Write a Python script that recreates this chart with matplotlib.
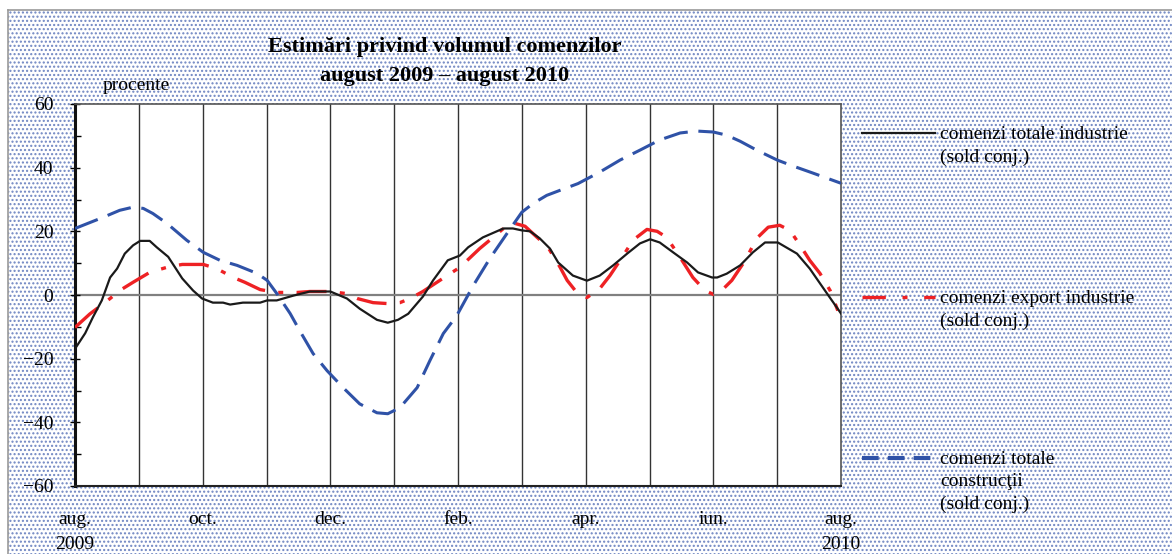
import numpy as np
import matplotlib
matplotlib.use('Agg')
from matplotlib import pyplot as plt
from matplotlib.lines import Line2D
from matplotlib.patches import Rectangle

# months since aug. 2009 (0 = aug. 2009, 12 = aug. 2010)
ind_x = [0, 0.16, 0.28, 0.42, 0.55, 0.66, 0.78, 0.91, 1.02, 1.17, 1.28, 1.46, 1.68, 1.85,
         1.99, 2.16, 2.32, 2.43, 2.63, 2.90, 3.01, 3.16, 3.42, 3.68, 4.00, 4.26, 4.46, 4.73,
         4.90, 5.06, 5.22, 5.45, 5.61, 5.84, 6.03, 6.16, 6.39, 6.71, 6.86, 7.00, 7.13, 7.28,
         7.44, 7.57, 7.80, 8.02, 8.22, 8.43, 8.65, 8.85, 9.01, 9.16, 9.37, 9.59, 9.76, 9.98,
         10.06, 10.21, 10.42, 10.62, 10.81, 11.01, 11.31, 11.51, 11.78, 12.0]
ind_y = [-16.9, -12, -7, -1.7, 5.5, 8.3, 13, 15.6, 17, 17, 15, 12, 5.2, 1.4,
         -1.1, -2.4, -2.4, -3, -2.4, -2.4, -1.7, -1.7, -0.2, 1.1, 1.1, -1.1, -4.3, -7.8,
         -8.7, -7.8, -5.9, -0.5, 4.6, 10.9, 12.4, 15, 18.1, 20.9, 20.9, 20.3, 20, 17.8,
         14.6, 10.2, 6.1, 4.5, 6.1, 9.3, 13, 16.2, 17.5, 16.5, 13.4, 10.2, 7.1, 5.5,
         5.5, 6.7, 9.3, 13.4, 16.5, 16.5, 13, 8.3, 0.5, -5.8]

exp_x = [0, 0.23, 0.55, 0.70, 0.91, 1.17, 1.44, 1.68, 2.01, 2.22, 2.48, 2.66, 2.90, 3.16,
         3.48, 3.68, 4.00, 4.23, 4.42, 4.67, 4.90, 5.09, 5.25, 5.45, 5.83, 6.03, 6.34, 6.55,
         6.77, 6.89, 7.05, 7.24, 7.41, 7.60, 7.71, 7.86, 8.02, 8.22, 8.38, 8.59, 8.74, 8.96,
         9.12, 9.27, 9.48, 9.68, 9.87, 10.0, 10.1, 10.29, 10.50, 10.68, 10.86, 11.04, 11.20,
         11.36, 11.51, 11.67, 11.83, 11.95]
exp_y = [-10.2, -6, -1.1, 1.4, 4, 7.1, 8.7, 9.6, 9.6, 8.3, 5.5, 4, 1.7, 0.8,
         0.8, 1.1, 1.1, 0.5, -1.1, -2.4, -2.7, -2.4, -1.1, 1.1, 6.1, 8.7, 14.6, 18.1,
         21.9, 22.5, 21.6, 18.1, 15, 8.7, 4.6, 0.8, -0.8, 2, 6.1, 12.4, 17.2, 20.6,
         20, 18.1, 11.8, 5.5, 1.4, 0.2, 0.8, 4.6, 10.9, 17.8, 21.3, 21.9, 20.3,
         15.6, 10.9, 6.8, 1.4, -4.9]

con_x = [0, 0.44, 0.70, 0.91, 1.07, 1.22, 1.44, 1.75, 2.01, 2.27, 2.54, 2.85, 3.01, 3.16,
         3.37, 3.52, 3.73, 3.95, 4.20, 4.46, 4.73, 4.90, 5.09, 5.36, 5.56, 5.77, 5.98, 6.24,
         6.50, 6.77, 7.00, 7.18, 7.39, 7.60, 7.88, 8.22, 8.54, 8.85, 9.16, 9.48, 9.74, 10.0,
         10.21, 10.42, 10.68, 11.0, 11.25, 11.56, 12.0]
con_y = [20.9, 24.4, 26.6, 27.6, 27.2, 25.6, 22.5, 17.2, 13.4, 10.9, 9.3, 6.8, 4.6, 0.5,
         -5.8, -11.2, -18.4, -23.8, -29.1, -34.2, -37, -37.3, -35.4, -29.1, -20.6, -12.1, -6.5, 3,
         11.5, 19.4, 26, 28.8, 31.3, 32.9, 35, 38.6, 42.4, 45.5, 48.7, 50.9, 51.5, 51.2,
         50.2, 48.3, 45.5, 42.4, 40.5, 38.3, 35.1]

tick_pos = [0, 2, 4, 6, 8, 10, 12]
tick_lbl = ['aug.\n2009', 'oct.', 'dec.', 'feb.', 'apr.', 'iun.', 'aug.\n2010']

series_names = ['comenzi totale industrie\n(sold conj.)',
                'comenzi export industrie\n(sold conj.)',
                'comenzi totale\nconstrucţii\n(sold conj.)']

matplotlib.rcParams['font.family'] = 'Liberation Serif'
matplotlib.rcParams['font.size'] = 14

fig = plt.figure(figsize=(11.72, 5.54), dpi=100)
fig.patch.set_facecolor('white')
# dotted background
bg = Rectangle((8/1172, 0.0), 1 - 8/1172, 1 - 10/554, transform=fig.transFigure,
               facecolor='white', edgecolor='#6f86c2', hatch='....', lw=0, zorder=-10)
fig.add_artist(bg)
fig.add_artist(Line2D([8/1172, 8/1172], [0, 1 - 10/554], color='#9a9a9a', lw=1.2))
fig.add_artist(Line2D([8/1172, 1], [1 - 10/554, 1 - 10/554], color='#9a9a9a', lw=1.2))

ax = fig.add_axes([75/1172, 1 - 486/554, (841 - 75)/1172, (486 - 104)/554])
ax.set_facecolor('white')

for m in range(1, 12):
    ax.axvline(m, color='#333333', lw=1.0, zorder=1)
ax.axhline(0, color='#808080', lw=1.6, zorder=1)

ax.plot(ind_x, ind_y, color='#1a1a1a', lw=1.6, zorder=4)
ax.plot(exp_x, exp_y, color='#ee2124', lw=2.4, dashes=[9, 4, 1.5, 4], zorder=3)
ax.plot(con_x, con_y, color='#2f52a7', lw=2.2, dashes=[8, 3.5], zorder=3)

ax.set_xlim(0, 12)
ax.set_ylim(-60, 60)
ax.set_yticks(np.arange(-60, 61, 20))
ax.set_yticks(np.arange(-50, 60, 20), minor=True)
ax.set_xticks(tick_pos)
ax.set_xticklabels(tick_lbl, linespacing=1.6, va='top')
ax.tick_params(axis='y', which='major', direction='inout', length=7, width=1, pad=12, labelsize=14)
ax.tick_params(axis='y', which='minor', direction='in', length=4, width=1)
ax.tick_params(axis='x', which='major', length=0, pad=18, labelsize=14)

for s in ['top', 'right']:
    ax.spines[s].set_color('#555555')
    ax.spines[s].set_linewidth(1.2)
ax.spines['bottom'].set_color('#222222')
ax.spines['bottom'].set_linewidth(1.5)
ax.spines['left'].set_color('#111111')
ax.spines['left'].set_linewidth(2.2)

fig.text(103/1172, 1 - 86/554, 'procente', fontsize=14, va='center', ha='left')
fig.text(445/1172, 1 - 47/554, 'Estimări privind volumul comenzilor', fontsize=16,
         fontweight='bold', ha='center', va='center')
fig.text(445/1172, 1 - 76/554, 'august 2009 – august 2010', fontsize=16,
         fontweight='bold', ha='center', va='center')

# legend drawn outside the plot
leg_y = [133, 297, 458]
leg_style = [dict(color='#1a1a1a', lw=1.6),
             dict(color='#ee2124', lw=2.4, dashes=[7, 5, 1.5, 5]),
             dict(color='#2f52a7', lw=3.0, dashes=[4, 2.2])]
for yy, name, st in zip(leg_y, series_names, leg_style):
    fy = 1 - yy / 554
    fig.add_artist(Line2D([862/1172, 935/1172], [fy, fy], **st))
    fig.text(940/1172, fy + 7/554, name, fontsize=14, ha='left', va='top', linespacing=1.4)

plt.savefig('out.png', dpi=100, facecolor=fig.get_facecolor())
